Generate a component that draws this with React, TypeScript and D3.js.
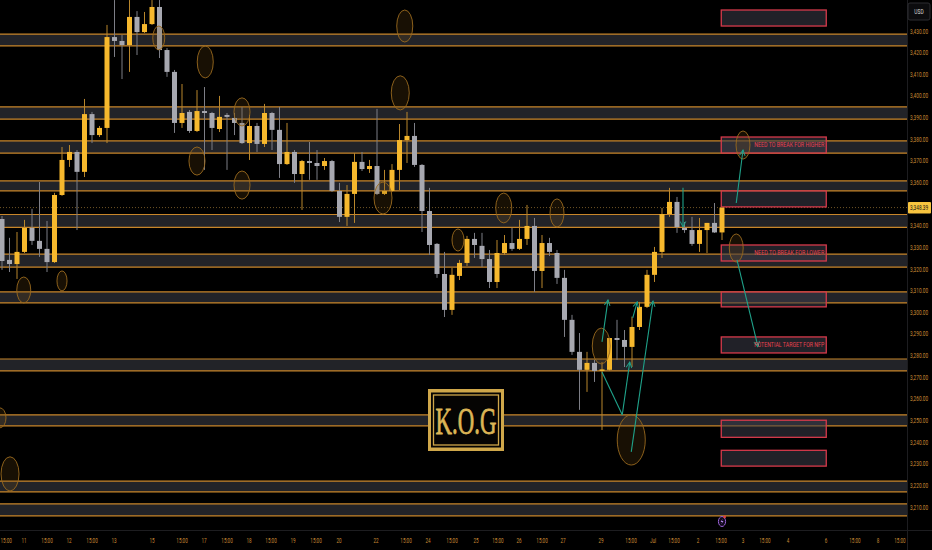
import * as d3 from 'd3';
import { useEffect, useRef } from 'react';

const W = 932;
const H = 550;

// 4h candles
const opens = [
  3343.1, 3324.2, 3322.3, 3327.9, 3339.0, 3333.0, 3329.3, 3323.2, 3354.2, 3370.4,
  3374.1, 3364.9, 3391.6, 3381.9, 3385.2, 3427.2, 3425.4, 3423.5, 3436.5, 3429.5,
  3433.2, 3441.1, 3421.2, 3411.1, 3387.5, 3392.6, 3383.8, 3393.0, 3392.1, 3384.7,
  3391.2, 3389.8, 3387.5, 3378.2, 3386.1, 3377.8, 3392.1, 3384.3, 3368.5, 3374.1,
  3363.9, 3369.9, 3369.0, 3367.6, 3369.9, 3356.1, 3344.1, 3354.7, 3369.5, 3366.2,
  3367.6, 3354.7, 3356.1, 3365.8, 3379.6, 3381.5, 3368.1, 3346.8, 3331.6, 3317.7,
  3301.1, 3316.8, 3322.8, 3333.9, 3330.7, 3324.6, 3314.0, 3327.4, 3332.0, 3329.3,
  3333.9, 3339.9, 3319.1, 3332.0, 3327.4, 3315.9, 3296.5, 3281.7, 3273.4, 3276.6,
  3272.9, 3273.4, 3288.1, 3287.2, 3284.0, 3293.2, 3302.5, 3317.3, 3327.9, 3345.4,
  3351.0, 3339.0, 3338.0, 3331.6, 3338.0, 3341.3, 3336.9,
];
const highs = [
  3344.5, 3334.4, 3337.1, 3342.7, 3347.8, 3360.2, 3342.2, 3355.2, 3376.4, 3377.3,
  3375.0, 3398.6, 3392.6, 3386.1, 3432.8, 3444.3, 3428.2, 3444.3, 3439.2, 3438.8,
  3444.3, 3444.3, 3422.1, 3412.0, 3405.5, 3393.5, 3402.7, 3404.1, 3392.6, 3400.0,
  3392.1, 3392.1, 3394.9, 3391.2, 3387.5, 3396.3, 3392.6, 3394.9, 3387.5, 3375.0,
  3370.4, 3378.7, 3375.0, 3371.3, 3370.4, 3359.8, 3358.8, 3373.6, 3374.1, 3370.4,
  3394.0, 3365.8, 3368.5, 3387.0, 3392.6, 3387.5, 3368.5, 3357.5, 3332.0, 3327.9,
  3320.5, 3324.2, 3335.3, 3336.7, 3336.7, 3328.8, 3333.4, 3335.7, 3339.0, 3342.7,
  3349.6, 3343.6, 3335.7, 3334.4, 3328.8, 3319.6, 3298.8, 3290.4, 3281.7, 3278.0,
  3277.0, 3288.1, 3296.5, 3291.8, 3298.0, 3304.8, 3319.6, 3330.2, 3348.2, 3357.5,
  3353.3, 3341.7, 3344.1, 3343.6, 3341.3, 3350.5, 3348.4,
];
const lows = [
  3319.6, 3318.6, 3315.4, 3327.4, 3331.1, 3325.6, 3318.6, 3322.8, 3353.8, 3367.2,
  3338.0, 3362.5, 3378.2, 3381.0, 3378.2, 3418.0, 3407.8, 3411.1, 3418.9, 3429.1,
  3432.8, 3417.5, 3408.8, 3382.9, 3385.2, 3382.9, 3383.3, 3365.8, 3375.0, 3383.3,
  3365.8, 3381.9, 3377.8, 3370.4, 3374.1, 3376.4, 3375.0, 3362.1, 3368.1, 3359.8,
  3347.3, 3361.2, 3361.2, 3365.8, 3355.6, 3341.7, 3339.9, 3341.3, 3365.3, 3364.4,
  3354.2, 3354.2, 3355.6, 3356.5, 3369.0, 3367.2, 3337.1, 3326.5, 3315.9, 3297.8,
  3298.8, 3314.9, 3321.4, 3325.1, 3320.9, 3311.2, 3311.2, 3326.5, 3328.4, 3328.8,
  3331.1, 3309.4, 3311.2, 3326.0, 3313.1, 3288.6, 3280.3, 3254.9, 3263.2, 3267.8,
  3245.6, 3273.0, 3278.0, 3274.7, 3274.7, 3291.8, 3302.0, 3314.0, 3325.1, 3344.1,
  3336.7, 3336.7, 3330.7, 3327.9, 3327.4, 3336.7, 3333.4,
];
const closes = [
  3323.7, 3322.3, 3327.9, 3339.0, 3333.0, 3329.3, 3323.2, 3354.2, 3370.4, 3374.1,
  3364.9, 3391.6, 3381.9, 3385.2, 3427.2, 3425.4, 3423.5, 3436.5, 3429.5, 3433.2,
  3441.1, 3421.2, 3411.1, 3387.5, 3392.1, 3383.8, 3393.0, 3392.1, 3385.2, 3390.3,
  3390.3, 3387.5, 3378.2, 3386.1, 3377.8, 3392.1, 3384.3, 3368.5, 3374.1, 3363.9,
  3369.9, 3369.0, 3367.6, 3369.9, 3356.1, 3344.1, 3354.7, 3369.5, 3366.2, 3367.6,
  3354.7, 3356.1, 3365.8, 3379.6, 3381.5, 3368.1, 3346.8, 3331.1, 3317.7, 3301.1,
  3317.3, 3322.8, 3333.9, 3331.1, 3324.6, 3314.0, 3327.4, 3332.0, 3329.3, 3333.9,
  3339.9, 3319.1, 3332.0, 3327.9, 3315.9, 3296.5, 3281.7, 3273.4, 3276.6, 3272.9,
  3273.6, 3288.1, 3287.2, 3284.0, 3293.2, 3302.5, 3317.3, 3327.9, 3345.4, 3351.0,
  3339.4, 3338.0, 3331.6, 3338.0, 3341.3, 3336.9, 3348.39,
];

const lastPrice = 3348.39;

// horizontal zones [top, bottom]
const zoneTops = [3428.6, 3394.9, 3379.2, 3360.7, 3345.2, 3326.9, 3309.4, 3278.4, 3252.6, 3222.0, 3211.4];
const zoneBottoms = [3423.1, 3389.3, 3373.6, 3356.1, 3339.2, 3320.9, 3304.3, 3272.9, 3247.5, 3217.0, 3205.9];

// red target boxes on the right
const boxTops = [3439.7, 3381.0, 3356.1, 3331.1, 3309.4, 3288.6, 3250.1, 3236.2];
const boxBottoms = [3432.3, 3373.6, 3348.7, 3323.7, 3302.5, 3281.2, 3242.2, 3228.9];
const boxLabels = ['', 'NEED TO BREAK FOR HIGHER', '', 'NEED TO BREAK FOR LOWER', '', 'POTENTIAL TARGET FOR NFP', '', ''];
const boxFrom = 95.9;
const boxTo = 109.9;

// circles: bar index, price, half width (bars), half height (price)
const ringIdx = [53.7, 27.1, 53.1, 32.0, 26.0, 32.0, 50.8, 20.9, 2.9, 8.0, 60.8, 66.9, 74.0, 79.9, 83.9, 98.8, 97.9, 1.07, -0.27];
const ringPrice = [3432.3, 3415.7, 3401.4, 3392.6, 3369.9, 3358.8, 3352.8, 3426.8, 3310.3, 3314.5, 3333.4, 3348.2, 3345.9, 3284.4, 3241.0, 3377.3, 3329.7, 3225.3, 3251.2];
const ringW = [1.07, 1.07, 1.2, 1.07, 1.07, 1.07, 1.2, 0.8, 0.93, 0.67, 0.8, 1.07, 0.93, 1.2, 1.87, 0.93, 0.93, 1.2, 0.8];
const ringH = [7.4, 7.4, 7.9, 6.5, 6.5, 6.5, 7.4, 5.5, 6.0, 4.6, 5.1, 6.9, 6.5, 8.3, 11.6, 6.5, 6.5, 7.9, 4.6];

// arrows: from (idx, price) to (idx, price)
const arrowFrom: [number, number][] = [
  [80.0, 3286.3], [80.0, 3272.4], [82.7, 3252.6], [83.9, 3235.5], [84.1, 3297.4],
  [90.8, 3357.5], [97.9, 3350.5], [98.0, 3324.2],
];
const arrowTo: [number, number][] = [
  [80.8, 3305.7], [82.7, 3252.6], [83.7, 3277.0], [86.8, 3305.2], [84.7, 3304.8],
  [90.8, 3339.4], [98.8, 3375.0], [100.8, 3284.0],
];
const arrowHead = [true, false, true, true, true, true, true, true];

const priceTicks = d3.range(3210, 3431, 10).filter((p) => p !== 3350);

const timeLabels = ['15:00', '11', '15:00', '12', '15:00', '13', '15', '15:00', '17', '15:00', '18', '15:00', '19', '15:00', '20', '22', '15:00', '24', '15:00', '25', '15:00', '26', '15:00', '27', '29', '15:00', 'Jul', '15:00', '2', '15:00', '3', '15:00', '4', '6', '15:00', '8', '15:00'];
const timeIdx = [0.55, 2.93, 6, 8.93, 12, 14.93, 20, 24, 26.93, 30, 32.93, 35.87, 38.8, 41.87, 44.93, 49.87, 53.87, 56.8, 60, 63.2, 66.13, 68.93, 72, 74.8, 79.87, 83.87, 86.8, 89.6, 92.8, 95.87, 98.8, 101.73, 104.8, 109.87, 113.73, 116.8, 119.73];

const BULL = '#f6b82d';
const BEAR = '#a7a8b0';
const ZONE_LINE = '#c8862a';
const TEAL = '#1fa28a';
const AXIS_TXT = '#c88a34';
const FONT = 'Roboto, "DejaVu Sans", sans-serif';

export default function App() {
  const ref = useRef<SVGSVGElement | null>(null);

  useEffect(() => {
    const svg = d3.select(ref.current);
    svg.selectAll('*').remove();

    const plotR = 907;
    const plotB = 530;

    const x = d3.scaleLinear().domain([0, 120]).range([2, 902]);
    const y = d3.scaleLinear().domain([3430, 3210]).range([31, 507]);
    const bw = 5;

    svg.append('rect').attr('width', W).attr('height', H).attr('fill', '#000');

    const defs = svg.append('defs');
    defs.append('clipPath').attr('id', 'plot').append('rect').attr('width', plotR).attr('height', plotB);
    defs
      .append('marker')
      .attr('id', 'head')
      .attr('viewBox', '0 0 10 10')
      .attr('refX', 9)
      .attr('refY', 5)
      .attr('markerWidth', 7)
      .attr('markerHeight', 7)
      .attr('markerUnits', 'userSpaceOnUse')
      .attr('orient', 'auto')
      .append('path')
      .attr('d', 'M1,1 L9,5 L1,9')
      .attr('fill', 'none')
      .attr('stroke', TEAL)
      .attr('stroke-width', 1.4);

    const g = svg.append('g').attr('clip-path', 'url(#plot)');

    // zones
    const zones = d3.range(zoneTops.length);
    g.selectAll('rect.zone')
      .data(zones)
      .enter()
      .append('rect')
      .attr('x', 0)
      .attr('width', plotR)
      .attr('y', (i) => y(zoneTops[i]))
      .attr('height', (i) => y(zoneBottoms[i]) - y(zoneTops[i]))
      .attr('fill', '#222328');
    zones.forEach((i) => {
      [zoneTops[i], zoneBottoms[i]].forEach((p) => {
        g.append('line')
          .attr('x1', 0)
          .attr('x2', plotR)
          .attr('y1', y(p))
          .attr('y2', y(p))
          .attr('stroke', ZONE_LINE)
          .attr('stroke-width', 1.2);
      });
    });

    // last price line
    g.append('line')
      .attr('x1', 0)
      .attr('x2', plotR)
      .attr('y1', y(lastPrice))
      .attr('y2', y(lastPrice))
      .attr('stroke', '#8a6a30')
      .attr('stroke-width', 0.8)
      .attr('stroke-dasharray', '1,2');

    // boxes
    const bx = d3.range(boxTops.length);
    g.selectAll('rect.box')
      .data(bx)
      .enter()
      .append('rect')
      .attr('x', x(boxFrom))
      .attr('width', x(boxTo) - x(boxFrom))
      .attr('y', (i) => y(boxTops[i]))
      .attr('height', (i) => y(boxBottoms[i]) - y(boxTops[i]))
      .attr('fill', 'rgba(60,60,72,0.55)')
      .attr('stroke', '#d63a4b')
      .attr('stroke-width', 1.3);

    // candles
    const idx = d3.range(opens.length);
    g.selectAll('line.wick')
      .data(idx)
      .enter()
      .append('line')
      .attr('x1', (i) => x(i))
      .attr('x2', (i) => x(i))
      .attr('y1', (i) => y(highs[i]))
      .attr('y2', (i) => y(lows[i]))
      .attr('stroke', (i) => (closes[i] >= opens[i] ? '#b8862c' : '#7d7e86'))
      .attr('stroke-width', 1);
    g.selectAll('rect.body')
      .data(idx)
      .enter()
      .append('rect')
      .attr('x', (i) => x(i) - bw / 2)
      .attr('width', bw)
      .attr('y', (i) => y(Math.max(opens[i], closes[i])))
      .attr('height', (i) => Math.max(1, Math.abs(y(opens[i]) - y(closes[i]))))
      .attr('fill', (i) => (closes[i] >= opens[i] ? BULL : BEAR));

    // rings
    const rings = d3.range(ringIdx.length);
    g.selectAll('ellipse.ring')
      .data(rings)
      .enter()
      .append('ellipse')
      .attr('cx', (i) => x(ringIdx[i]))
      .attr('cy', (i) => y(ringPrice[i]))
      .attr('rx', (i) => x(ringW[i]) - x(0))
      .attr('ry', (i) => y(0) - y(ringH[i]))
      .attr('fill', 'rgba(120,78,18,0.2)')
      .attr('stroke', '#9a6a1e')
      .attr('stroke-width', 0.9);

    // arrows
    arrowFrom.forEach((a, i) => {
      const ln = g
        .append('line')
        .attr('x1', x(a[0]))
        .attr('y1', y(a[1]))
        .attr('x2', x(arrowTo[i][0]))
        .attr('y2', y(arrowTo[i][1]))
        .attr('stroke', TEAL)
        .attr('stroke-width', 1.1);
      if (arrowHead[i]) ln.attr('marker-end', 'url(#head)');
    });

    // box labels
    bx.forEach((i) => {
      if (!boxLabels[i]) return;
      g.append('text')
        .attr('x', x(boxTo) - 2)
        .attr('y', (y(boxTops[i]) + y(boxBottoms[i])) / 2 + 2.4)
        .attr('text-anchor', 'end')
        .attr('font-family', FONT)
        .attr('font-size', 6.8)
        .attr('textLength', 70)
        .attr('lengthAdjust', 'spacingAndGlyphs')
        .attr('fill', '#e8414f')
        .text(boxLabels[i]);
    });

    // logo
    const logo = svg.append('g').attr('transform', 'translate(428,389)');
    logo.append('rect').attr('width', 76).attr('height', 62).attr('fill', '#cfa74a');
    logo.append('rect').attr('x', 3).attr('y', 3.5).attr('width', 70).attr('height', 55).attr('fill', '#050403');
    logo
      .append('rect')
      .attr('x', 5.5)
      .attr('y', 6)
      .attr('width', 65)
      .attr('height', 50)
      .attr('fill', 'none')
      .attr('stroke', '#cfa74a')
      .attr('stroke-width', 1.3);
    logo
      .append('text')
      .attr('transform', 'translate(38,44.5) scale(0.6,1)')
      .attr('text-anchor', 'middle')
      .attr('font-family', '"Liberation Serif", "DejaVu Serif", serif')
      .attr('font-size', 38)
      .attr('fill', '#dcb556')
      .attr('stroke', '#dcb556')
      .attr('stroke-width', 0.8)
      .text('K.O.G');

    // event icon
    const ev = svg.append('g').attr('transform', `translate(${x(96)},521.5)`);
    ev.append('ellipse').attr('rx', 3.6).attr('ry', 5).attr('fill', '#120a1c').attr('stroke', '#9a62d8').attr('stroke-width', 1);
    ev.append('path').attr('d', 'M0.8,-3 L-1.4,0.4 L0.3,0.4 L-0.8,3 L1.5,-0.6 L-0.2,-0.6 Z').attr('fill', '#b488ea');
    ev.append('circle').attr('cx', 2.6).attr('cy', -4.6).attr('r', 1.4).attr('fill', '#e0413f');

    // axes frame
    svg.append('line').attr('x1', plotR + 0.5).attr('x2', plotR + 0.5).attr('y1', 0).attr('y2', H).attr('stroke', '#1d1d20');
    svg.append('line').attr('x1', 0).attr('x2', W).attr('y1', plotB + 0.5).attr('y2', plotB + 0.5).attr('stroke', '#1d1d20');

    // price axis
    priceTicks.forEach((p) => {
      svg
        .append('text')
        .attr('transform', `translate(910,${y(p) + 2.5}) scale(0.64,1)`)
        .attr('font-family', FONT)
        .attr('font-size', 7.4)
        .attr('fill', AXIS_TXT)
        .text(d3.format(',.2f')(p));
    });

    // last price tag
    svg.append('rect').attr('x', 908).attr('y', y(lastPrice) - 5.5).attr('width', 23).attr('height', 11.5).attr('rx', 1).attr('fill', '#f7c43f');
    svg
      .append('text')
      .attr('transform', `translate(910,${y(lastPrice) + 2.6}) scale(0.64,1)`)
      .attr('font-family', FONT)
      .attr('font-size', 7.4)
      .attr('fill', '#141414')
      .text(d3.format(',.2f')(lastPrice));

    // USD badge
    svg.append('rect').attr('x', 908).attr('y', 3).attr('width', 22).attr('height', 17).attr('rx', 2).attr('fill', '#0c0c0e').attr('stroke', '#2c2c30');
    svg
      .append('text')
      .attr('transform', 'translate(919,14) scale(0.7,1)')
      .attr('text-anchor', 'middle')
      .attr('font-family', FONT)
      .attr('font-size', 7)
      .attr('fill', '#d8d8d8')
      .text('USD');

    // time axis
    timeLabels.forEach((t, i) => {
      svg
        .append('text')
        .attr('transform', `translate(${x(timeIdx[i])},543) scale(0.62,1)`)
        .attr('text-anchor', 'middle')
        .attr('font-family', FONT)
        .attr('font-size', 7.4)
        .attr('fill', AXIS_TXT)
        .text(t);
    });
  }, []);

  return <svg ref={ref} width={W} height={H} style={{ position: 'absolute', left: 0, top: 0, display: 'block' }} />;
}
